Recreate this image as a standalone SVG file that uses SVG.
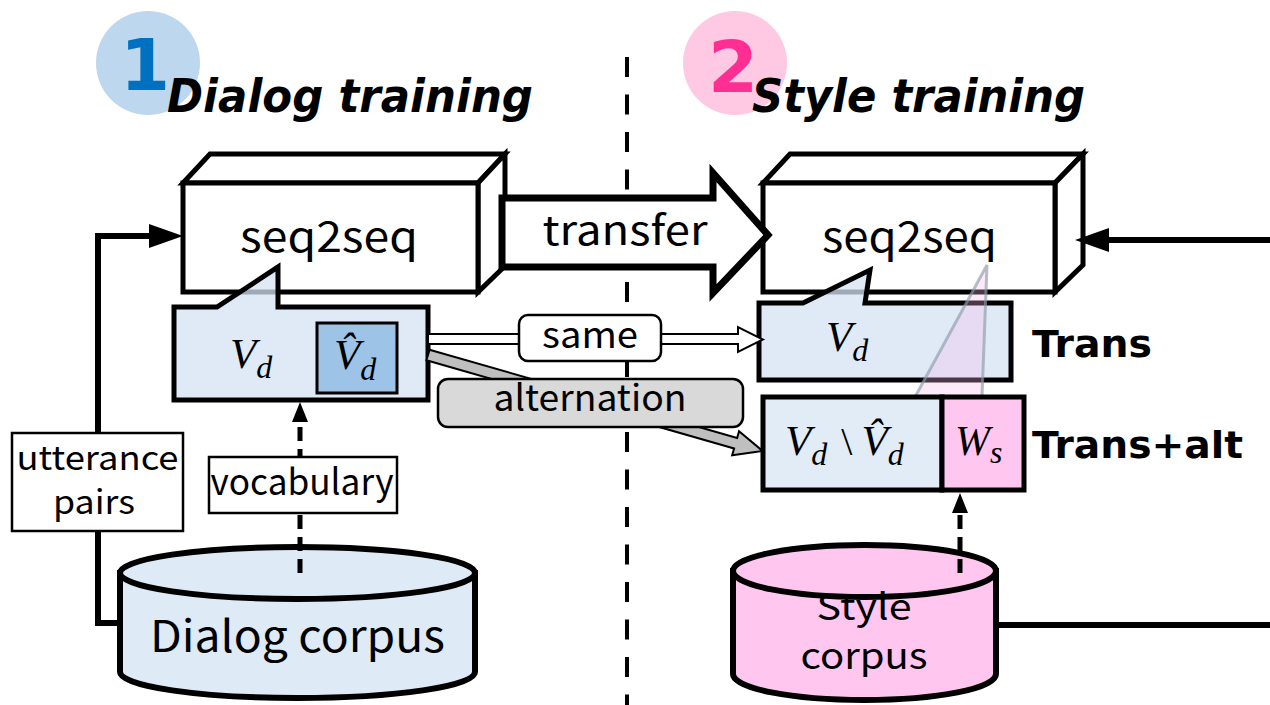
<svg xmlns="http://www.w3.org/2000/svg" width="1270" height="705" viewBox="0 0 1270 705">
<style>
.t{font-family:"Noto Sans CJK JP","Noto Sans",sans-serif;fill:#000}
.ttl{font-family:"DejaVu Sans",sans-serif;font-weight:bold;font-style:italic;font-size:46px;fill:#000}
.num{font-family:"DejaVu Sans",sans-serif;font-weight:bold;font-size:72px;text-anchor:middle}
.m{font-family:"Liberation Serif","DejaVu Serif",serif;font-style:italic;fill:#000}
.box{fill:#fff;stroke:#000;stroke-width:5;stroke-linejoin:miter}
.lbl{stroke:#000;stroke-width:2.5}
.bold{font-family:"DejaVu Sans",sans-serif;font-weight:bold;font-size:38px;fill:#000}
.thick{fill:none;stroke:#000;stroke-width:6}
.dash{fill:none;stroke:#000;stroke-width:5;stroke-dasharray:14 8}
</style>
<defs>
<marker id="ab" markerUnits="userSpaceOnUse" markerWidth="34" markerHeight="24" viewBox="0 0 34 24" refX="1" refY="12" orient="auto"><path d="M0,0 L34,12 L0,24 Z" fill="#000"/></marker>
<marker id="as" markerUnits="userSpaceOnUse" markerWidth="20" markerHeight="16" viewBox="0 0 20 16" refX="1" refY="8" orient="auto"><path d="M0,0 L20,8 L0,16 Z" fill="#000"/></marker>
</defs>
<rect width="1270" height="705" fill="#fff"/>

<line id="divider" x1="627" y1="57" x2="627" y2="705" stroke="#000" stroke-width="4" stroke-dasharray="20 17.5"/>

<g id="title1">
<circle cx="148" cy="63" r="52" fill="#BDD7EE"/>
<text class="num" x="145" y="90" fill="#0070C0">1</text>
<text class="ttl" x="167" y="112" textLength="366" lengthAdjust="spacingAndGlyphs">Dialog training</text>
</g>
<g id="title2">
<circle cx="735" cy="63" r="52" fill="#FFC9E3"/>
<text class="num" x="733" y="92" fill="#FF2E93">2</text>
<text class="ttl" x="752" y="112" textLength="333" lengthAdjust="spacingAndGlyphs">Style training</text>
</g>

<g id="dialog-corpus">
<path d="M120,573 L120,672 A177.5,26 0 0 0 475,672 L475,573 Z" fill="#DEEAF6" stroke="#000" stroke-width="6"/>
<ellipse cx="297.5" cy="573" rx="177.5" ry="26" fill="#DEEAF6" stroke="#000" stroke-width="6"/>
<text class="t" x="297.5" y="652" font-size="44" text-anchor="middle" textLength="295" lengthAdjust="spacingAndGlyphs">Dialog corpus</text>
</g>
<g id="style-corpus">
<path d="M733,571 L733,674 A131.5,26 0 0 0 996,674 L996,571 Z" fill="#FFC7EF" stroke="#000" stroke-width="6"/>
<ellipse cx="864.5" cy="571" rx="131.5" ry="26" fill="#FFC7EF" stroke="#000" stroke-width="6"/>
<text class="t" x="864" y="620" font-size="36" text-anchor="middle" textLength="95" lengthAdjust="spacingAndGlyphs">Style</text>
<text class="t" x="864" y="669" font-size="36" text-anchor="middle" textLength="127" lengthAdjust="spacingAndGlyphs">corpus</text>
</g>

<g id="seq2seq-left">
<polygon class="box" points="183,183 210,154 505,154 478,183"/>
<polygon class="box" points="478,183 505,154 505,266 478,292"/>
<rect class="box" x="183" y="183" width="295" height="109"/>
<text class="t" x="329" y="252" font-size="42" text-anchor="middle" textLength="178" lengthAdjust="spacingAndGlyphs">seq2seq</text>
</g>
<g id="seq2seq-right">
<polygon class="box" points="763,183 790,154 1083,154 1055,183"/>
<polygon class="box" points="1055,183 1083,154 1083,265 1055,292"/>
<rect class="box" x="763" y="183" width="292" height="109"/>
<text class="t" x="909.5" y="252" font-size="42" text-anchor="middle" textLength="175" lengthAdjust="spacingAndGlyphs">seq2seq</text>
</g>

<g id="vocab-dialog">
<path d="M174,307 L217,307 L278,267 L278,307 L428,307 L428,400 L174,400 Z" fill="#D6E3F3" fill-opacity="0.75" stroke="#000" stroke-width="5"/>
<text class="m" x="230" y="368"><tspan font-size="43">V</tspan><tspan font-size="32" dy="10">d</tspan></text>
<rect x="317" y="323" width="80" height="70" fill="#9DC3E6" stroke="#000" stroke-width="3"/>
<text class="m" x="334" y="369"><tspan font-size="43">V&#x302;</tspan><tspan font-size="32" dy="11">d</tspan></text>
</g>

<g id="vocab-trans">
<path d="M759,303 L803,303 L870,270 L865,303 L1011,303 L1011,380 L759,380 Z" fill="#D6E3F3" fill-opacity="0.75" stroke="#000" stroke-width="5"/>
<text class="m" x="826" y="351"><tspan font-size="43">V</tspan><tspan font-size="32" dy="10">d</tspan></text>
</g>
<text id="label-trans" class="bold" x="1032" y="357" textLength="120" lengthAdjust="spacingAndGlyphs">Trans</text>

<g id="callout">
<polygon points="987,265 915,397 982,397" fill="#F6B8EC" fill-opacity="0.3" stroke="#8E9CA8" stroke-opacity="0.65" stroke-width="3"/>
</g>

<g id="vocab-transalt">
<rect x="763" y="397" width="179" height="93" fill="#E2ECF6" stroke="#000" stroke-width="5"/>
<rect x="942" y="397" width="82" height="93" fill="#FFC7EF" stroke="#000" stroke-width="5"/>
<text class="m" x="785" y="455"><tspan font-size="43">V</tspan><tspan font-size="32" dy="10">d</tspan><tspan font-size="40" dy="-10" font-style="normal" dx="14">\</tspan><tspan font-size="43" dx="9">V&#x302;</tspan><tspan font-size="32" dy="10">d</tspan></text>
<text class="m" x="955" y="455"><tspan font-size="42">W</tspan><tspan font-size="32" dy="8">s</tspan></text>
</g>
<text id="label-transalt" class="bold" x="1032" y="458" textLength="211" lengthAdjust="spacingAndGlyphs">Trans+alt</text>

<g id="connectors">
<path class="thick" d="M122,623 H98 V236 H150" marker-end="url(#ab)"/>
<path class="thick" d="M996,625 H1276 V240 H1108" marker-end="url(#ab)"/>
<path class="dash" d="M300,573 V421" marker-end="url(#as)"/>
<path class="dash" d="M960,573 V512" marker-end="url(#as)"/>
<polygon points="428,334 738,334 738,327 763,339.5 738,352 738,344 428,344" fill="#fff" stroke="#000" stroke-width="2"/>
<polygon transform="translate(428,355) rotate(16)" points="0,-5.5 320,-5.5 320,-12.5 348,0 320,12.5 320,5.5 0,5.5" fill="#BFBFBF" stroke="#000" stroke-width="2"/>
<polygon points="502,198 713,198 713,173 768,235 713,293 713,267 502,267" fill="#fff" stroke="#000" stroke-width="7" stroke-linejoin="miter"/>
</g>
<text id="label-transfer" class="t" x="625" y="245" font-size="40" text-anchor="middle" textLength="165" lengthAdjust="spacingAndGlyphs">transfer</text>

<g id="label-same">
<rect class="lbl" x="519" y="315" width="142" height="46" rx="9" fill="#fff"/>
<text class="t" x="590" y="348" font-size="36" text-anchor="middle" textLength="96" lengthAdjust="spacingAndGlyphs">same</text>
</g>
<g id="label-alternation">
<rect class="lbl" x="438" y="379" width="305" height="48" rx="10" fill="#D9D9D9"/>
<text class="t" x="590" y="411" font-size="36" text-anchor="middle" textLength="193" lengthAdjust="spacingAndGlyphs">alternation</text>
</g>
<g id="label-utterance">
<rect class="lbl" x="12" y="433" width="171" height="98" fill="#fff"/>
<text class="t" x="97.5" y="470" font-size="33" text-anchor="middle" textLength="162" lengthAdjust="spacingAndGlyphs">utterance</text>
<text class="t" x="94" y="514" font-size="33" text-anchor="middle" textLength="82" lengthAdjust="spacingAndGlyphs">pairs</text>
</g>
<g id="label-vocabulary">
<rect class="lbl" x="209" y="457" width="188" height="56" fill="#fff"/>
<text class="t" x="302" y="495" font-size="36" text-anchor="middle" textLength="183" lengthAdjust="spacingAndGlyphs">vocabulary</text>
</g>
</svg>
